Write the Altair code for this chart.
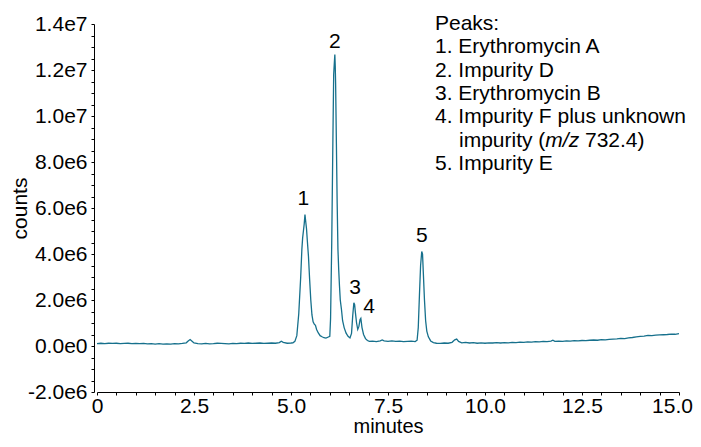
import altair as alt
import pandas as pd

FONT = "Liberation Sans"
LINE_COLOR = "#16708c"

# ---- chromatogram trace (minutes, counts in millions) ----
time_min = [
    0.0, 0.1, 0.2, 0.3, 0.4, 0.5, 0.6, 0.7, 0.8, 0.9,
    1.0, 1.1, 1.2, 1.3, 1.4, 1.5, 1.6, 1.7, 1.8, 1.9,
    2.0, 2.1, 2.2, 2.3, 2.35, 2.4, 2.45, 2.5, 2.6, 2.7, 2.8, 2.9,
    3.0, 3.1, 3.2, 3.3, 3.4, 3.5, 3.6, 3.7, 3.8, 3.9,
    4.0, 4.1, 4.2, 4.3, 4.4, 4.5, 4.6, 4.7, 4.75, 4.8, 4.9,
    5.0, 5.05, 5.1, 5.15, 5.2, 5.25, 5.28, 5.30, 5.32, 5.34, 5.36, 5.38,
    5.40, 5.42, 5.45, 5.48, 5.51, 5.54, 5.57, 5.60, 5.63, 5.66, 5.70,
    5.75, 5.80, 5.85, 5.90, 5.95, 6.00,
    6.02, 6.05, 6.08, 6.10, 6.12, 6.13, 6.14, 6.15, 6.17, 6.19, 6.21,
    6.23, 6.25, 6.27, 6.30, 6.33, 6.37, 6.42, 6.47, 6.52, 6.56,
    6.59, 6.62, 6.64, 6.66, 6.69, 6.72, 6.75, 6.78, 6.80, 6.83, 6.87,
    6.92, 6.97, 7.02, 7.1, 7.2, 7.3, 7.35, 7.4, 7.5, 7.6, 7.7, 7.8, 7.9,
    8.0, 8.1, 8.2, 8.25, 8.28, 8.31, 8.34, 8.37, 8.39, 8.41, 8.44, 8.47,
    8.50, 8.54, 8.60, 8.67, 8.75, 8.85, 8.95, 9.05, 9.15, 9.22, 9.27,
    9.32, 9.4, 9.5, 9.6, 9.7, 9.8, 9.9,
    10.0, 10.1, 10.2, 10.3, 10.4, 10.5, 10.6, 10.7, 10.8, 10.9,
    11.0, 11.1, 11.2, 11.3, 11.4, 11.5, 11.6, 11.7, 11.75, 11.8, 11.9,
    12.0, 12.1, 12.2, 12.3, 12.4, 12.5, 12.6, 12.7, 12.8, 12.9,
    13.0, 13.1, 13.2, 13.3, 13.4, 13.5, 13.6, 13.7, 13.8, 13.9,
    14.0, 14.1, 14.2, 14.3, 14.4, 14.5, 14.6, 14.7, 14.8, 14.9, 15.0,
]
counts_e6 = [
    0.10, 0.12, 0.10, 0.12, 0.11, 0.12, 0.10, 0.11, 0.12, 0.10,
    0.11, 0.10, 0.11, 0.09, 0.10, 0.08, 0.10, 0.08, 0.09, 0.08,
    0.10, 0.09, 0.11, 0.14, 0.22, 0.28, 0.21, 0.13, 0.10, 0.09, 0.11, 0.09,
    0.10, 0.12, 0.11, 0.10, 0.09, 0.11, 0.10, 0.12, 0.11, 0.13,
    0.11, 0.12, 0.13, 0.11, 0.12, 0.13, 0.12, 0.15, 0.21, 0.16, 0.12,
    0.13, 0.14, 0.20, 0.45, 1.40, 3.00, 4.20, 4.70, 5.00, 5.30, 5.71, 5.40,
    5.10, 4.60, 3.90, 2.90, 2.00, 1.35, 1.05, 0.95, 0.90, 0.72, 0.58,
    0.45, 0.40, 0.36, 0.34, 0.38, 0.42,
    1.20, 4.50, 9.00, 11.80, 12.40, 12.67, 12.20, 11.40, 8.80, 6.20, 4.20,
    3.30, 2.60, 2.00, 1.60, 1.10, 0.80, 0.56, 0.42, 0.35, 0.55,
    1.30, 1.88, 1.80, 1.45, 1.00, 0.72, 0.85, 1.15, 1.20, 0.80, 0.50,
    0.32, 0.24, 0.20, 0.21, 0.19, 0.22, 0.26, 0.22, 0.20, 0.22, 0.20, 0.21, 0.19,
    0.20, 0.21, 0.19, 0.25, 0.80, 2.20, 3.50, 4.11, 4.00, 3.20, 2.00, 1.10,
    0.65, 0.40, 0.22, 0.15, 0.12, 0.11, 0.13, 0.12, 0.16, 0.27, 0.30,
    0.20, 0.14, 0.16, 0.13, 0.15, 0.12, 0.14,
    0.12, 0.14, 0.13, 0.15, 0.13, 0.15, 0.14, 0.16, 0.15, 0.17,
    0.16, 0.18, 0.17, 0.19, 0.18, 0.20, 0.19, 0.21, 0.25, 0.20, 0.21,
    0.20, 0.22, 0.21, 0.23, 0.22, 0.24, 0.23, 0.25, 0.26, 0.25,
    0.28, 0.27, 0.29, 0.30, 0.31, 0.33, 0.32, 0.35, 0.37, 0.40,
    0.42, 0.43, 0.46, 0.45, 0.47, 0.48, 0.49, 0.50, 0.52, 0.51, 0.54,
]

# ---- peak annotations ----
peak_ids = ["1", "2", "3", "4", "5"]
peak_label_time = [5.32, 6.13, 6.65, 7.01, 8.37]
peak_label_counts_e6 = [6.14, 12.95, 2.27, 1.44, 4.54]

legend_lines = [
    "Peaks:",
    "1. Erythromycin A",
    "2. Impurity D",
    "3. Erythromycin B",
    "4. Impurity F plus unknown",
]
legend_cont = ["impurity (", "m/z", "732.4)"]
legend_last = "5. Impurity E"

# ---- axis ticks ----
x_tick_values = [0, 0.5, 1, 1.5, 2, 2.5, 3, 3.5, 4, 4.5, 5, 5.5, 6, 6.5, 7, 7.5,
                 8, 8.5, 9, 9.5, 10, 10.5, 11, 11.5, 12, 12.5, 13, 13.5, 14, 14.5, 15]
y_tick_values_e6 = [-2, -1.5, -1, -0.5, 0, 0.5, 1, 1.5, 2, 2.5, 3, 3.5, 4, 4.5, 5, 5.5,
                    6, 6.5, 7, 7.5, 8, 8.5, 9, 9.5, 10, 10.5, 11, 11.5, 12, 12.5, 13,
                    13.5, 14]

trace = pd.DataFrame({"minutes": time_min, "counts": [c * 1e6 for c in counts_e6]})
labels_df = pd.DataFrame({
    "minutes": peak_label_time,
    "counts": [c * 1e6 for c in peak_label_counts_e6],
    "label": peak_ids,
})
one = pd.DataFrame({"k": [0]})

x_scale = alt.Scale(domain=[0, 15], nice=False, zero=False)
y_scale = alt.Scale(domain=[-2e6, 1.4e7], nice=False, zero=False)

common_axis = dict(
    grid=False, tickSize=3, tickColor="black", domainColor="black",
    labelFont=FONT, labelFontSize=21, labelColor="black", labelOverlap=False,
    titleFont=FONT, titleFontWeight="normal", titleColor="black",
)

x_axis = alt.Axis(
    title="minutes", values=x_tick_values, labelFlush=False,
    labelExpr="datum.value % 2.5 == 0 ? (datum.value == 0 ? '0' : format(datum.value, '.1f')) : ''",
    labelOffset={"condition": {"test": "datum.value == 15", "value": -7}, "value": 0},
    labelPadding=0, titlePadding=0, titleFontSize=20, **common_axis,
)
y_axis = alt.Axis(
    title="counts", values=[v * 1e6 for v in y_tick_values_e6], offset=3,
    labelExpr="datum.value % 2000000 == 0 ? replace(replace(format(datum.value, '.1e'), '+', ''), '\u2212', '-') : ''",
    labelPadding=4, titlePadding=-3, titleFontSize=21, **common_axis,
)

X = alt.X("minutes:Q", scale=x_scale, axis=x_axis)
Y = alt.Y("counts:Q", scale=y_scale, axis=y_axis)

line = alt.Chart(trace).mark_line(color=LINE_COLOR, strokeWidth=1.3).encode(x=X, y=Y)

peak_text = alt.Chart(labels_df).mark_text(
    font=FONT, fontSize=21, color="black", baseline="alphabetic", align="center"
).encode(x=X, y=Y, text="label:N")

text_style = dict(font=FONT, fontSize=21, color="black", align="left", baseline="alphabetic")

legend_block = alt.Chart(one).mark_text(
    text=legend_lines, lineHeight=23.3, **text_style
).encode(x=alt.value(338), y=alt.value(6))

cont1 = alt.Chart(one).mark_text(text=legend_cont[0], **text_style).encode(
    x=alt.value(362), y=alt.value(122.6))
cont2 = alt.Chart(one).mark_text(text=legend_cont[1], fontStyle="italic", **text_style).encode(
    x=alt.value(448.3), y=alt.value(122.6))
cont3 = alt.Chart(one).mark_text(text=legend_cont[2], **text_style).encode(
    x=alt.value(488), y=alt.value(122.6))
last = alt.Chart(one).mark_text(text=legend_last, **text_style).encode(
    x=alt.value(338), y=alt.value(145.9))

chart = alt.layer(line, peak_text, legend_block, cont1, cont2, cont3, last).properties(
    width=582, height=368,
    autosize=alt.AutoSizeParams(type="none"),
    padding={"left": 89, "top": 16, "right": 14, "bottom": 47},
).configure_view(stroke=None)

chart.save("out.html", embed_options={"renderer": "svg", "actions": False})
